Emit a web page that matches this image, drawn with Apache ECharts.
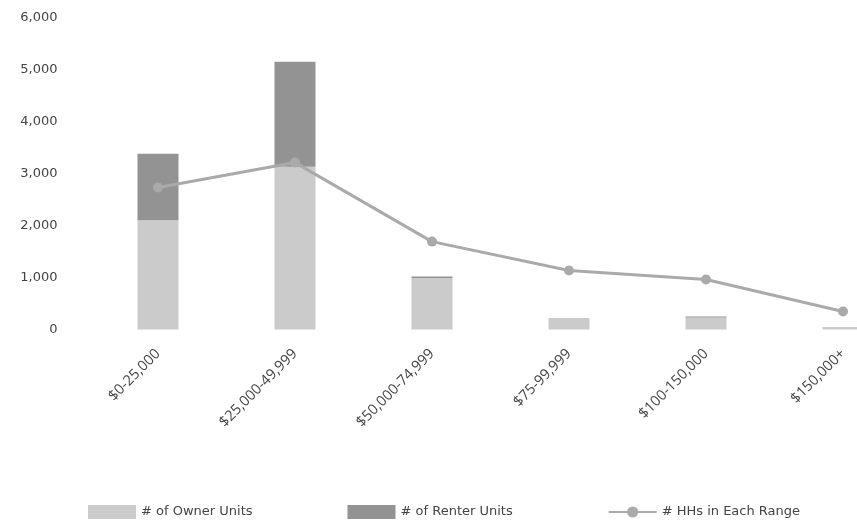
<!DOCTYPE html>
<html>
<head>
<meta charset="utf-8">
<script src="https://cdn.jsdelivr.net/npm/echarts@6/dist/echarts.min.js"></script>
<style>html,body{margin:0;padding:0;background:#fff;}#c{width:857px;height:524px;}</style>
</head>
<body>
<div id="c"></div>
<script>
const categories = ['$0-25,000', '$25,000-49,999', '$50,000-74,999', '$75-99,999', '$100-150,000', '$150,000+'];
const ownerUnits = [2100, 3130, 990, 220, 230, 50];
const renterUnits = [1280, 2020, 30, 0, 20, 0];
const hhsInRange = [2730, 3210, 1690, 1135, 960, 345];
const yTicks = [0, 1000, 2000, 3000, 4000, 5000, 6000];

const chart = echarts.init(document.getElementById('c'), null, {renderer: 'canvas'});
chart.setOption({
  animation: false,
  backgroundColor: '#ffffff',
  textStyle: {fontFamily: 'DejaVu Sans'},
  grid: {left: 89.5, width: 822, top: 17.5, bottom: 194.5, containLabel: false, outerBoundsMode: 'none'},
  legend: {
    top: 500, left: 83, itemWidth: 48, itemHeight: 14, itemGap: 95,
    textStyle: {fontFamily: 'DejaVu Sans', fontSize: 13, color: '#444'},
    data: [
      {name: '# of Owner Units', icon: 'rect'},
      {name: '# of Renter Units', icon: 'rect'},
      {name: '# HHs in Each Range'}
    ]
  },
  xAxis: {
    type: 'category', data: categories, boundaryGap: true,
    axisLine: {show: false}, axisTick: {show: false},
    axisLabel: {rotate: 45, margin: 22, fontSize: 14.5, color: '#444', fontFamily: 'Open Sans', interval: 0}
  },
  yAxis: {
    type: 'value', min: yTicks[0], max: yTicks[yTicks.length - 1], interval: 1000,
    splitLine: {show: false}, axisLine: {show: false}, axisTick: {show: false},
    axisLabel: {margin: 32, fontSize: 13, color: '#444', fontFamily: 'DejaVu Sans',
      formatter: v => v.toLocaleString('en-US')}
  },
  series: [
    {name: '# of Owner Units', type: 'bar', stack: 'u', data: ownerUnits, barWidth: 41,
     itemStyle: {color: '#cbcbcb'}},
    {name: '# of Renter Units', type: 'bar', stack: 'u', data: renterUnits, barWidth: 41,
     itemStyle: {color: '#939393'}},
    {name: '# HHs in Each Range', type: 'line', data: hhsInRange, symbol: 'circle', symbolSize: 10,
     lineStyle: {color: '#aaaaaa', width: 3}, itemStyle: {color: '#aaaaaa'}, z: 5}
  ]
});
</script>
</body>
</html>
